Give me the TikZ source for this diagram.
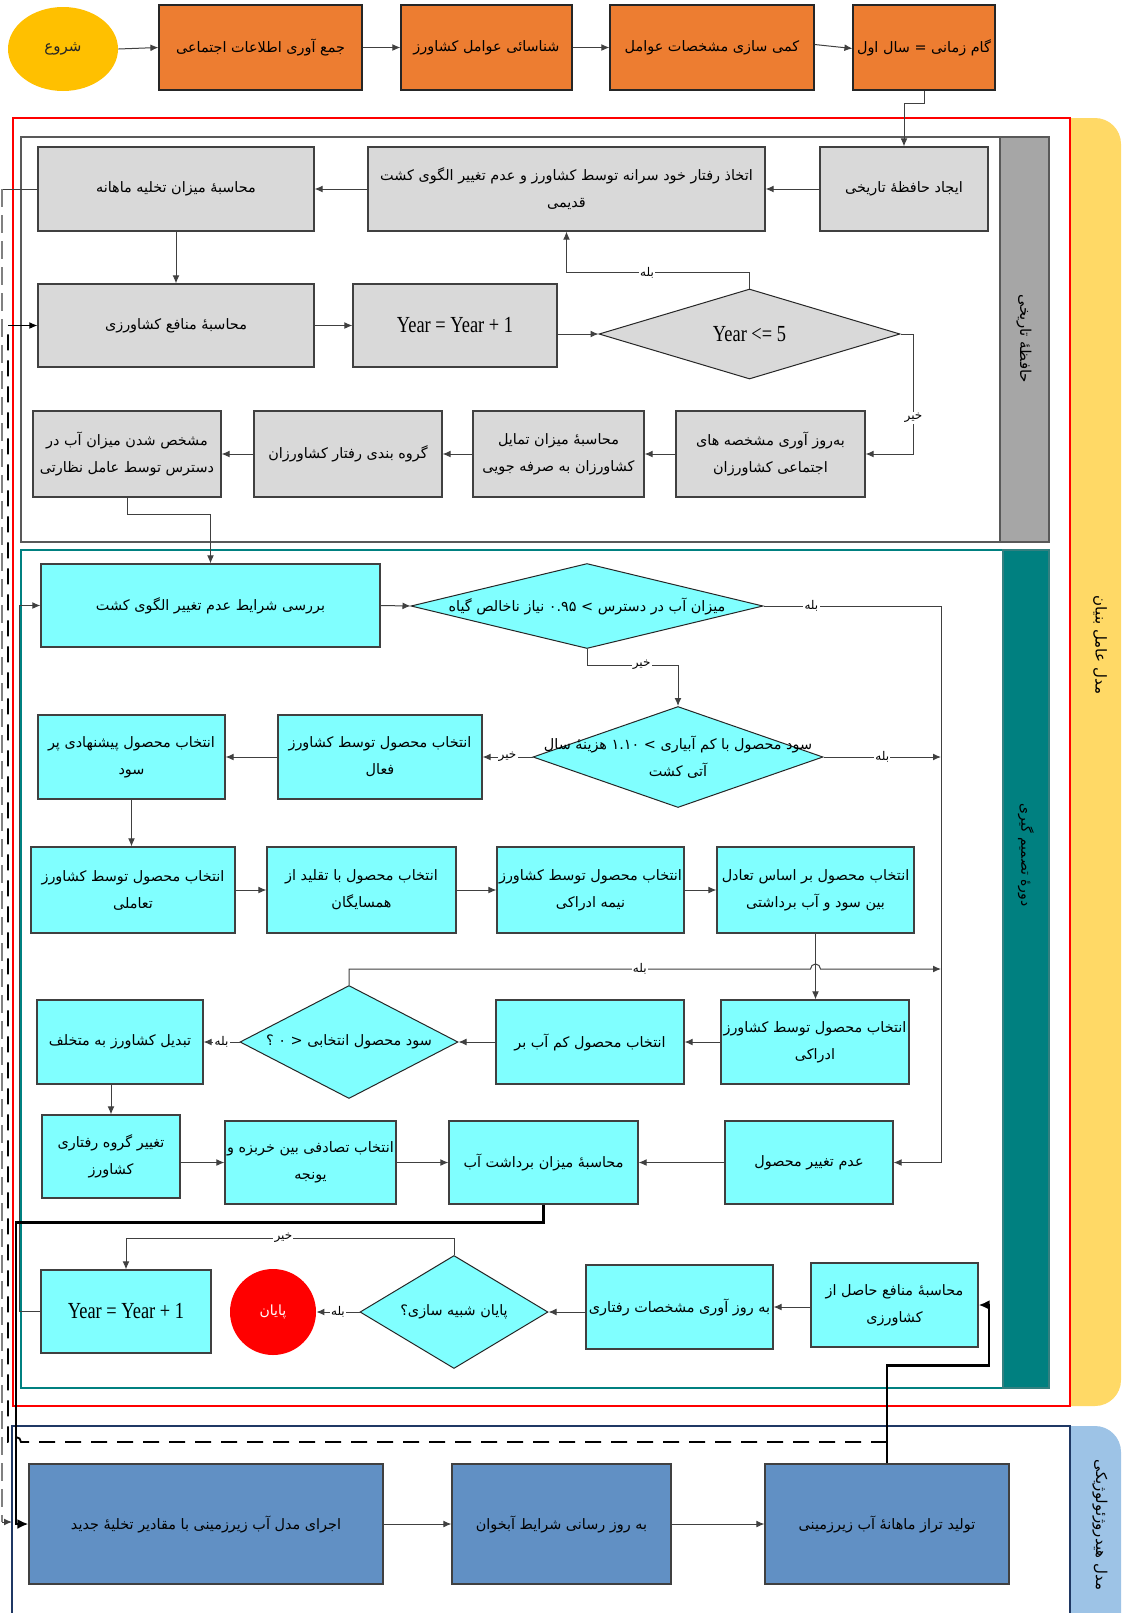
\documentclass[tikz,border=0pt]{standalone}
\usepackage{fontspec}
\usetikzlibrary{shapes.geometric,arrows.meta,calc}
\TeXXeTstate=1
\newfontfamily\fafont[Script=Arabic]{DejaVu Sans}
\newfontfamily\latfont[FakeStretch=0.8]{Liberation Serif}
\newcommand\fatext[1]{\beginR#1\endR}
% box given by its corners (in picture units): style, name, x1, y1, x2, y2, text
\newcommand\boxnode[7]{%
  \pgfmathsetmacro\bxW{(#5-#3)*0.5}\pgfmathsetmacro\bxH{(#6-#4)*0.5}%
  \pgfmathsetmacro\bxX{(#3+#5)/2}\pgfmathsetmacro\bxY{(#4+#6)/2}%
  \node[#1, minimum width=\bxW pt, minimum height=\bxH pt] (#2) at (\bxX,\bxY) {#7};}

\definecolor{orangeF}{HTML}{ED7D31}
\definecolor{goldF}{HTML}{FFC000}
\definecolor{grayF}{HTML}{D9D9D9}
\definecolor{cyanF}{HTML}{80FFFF}
\definecolor{blueF}{HTML}{6190C4}
\definecolor{barGray}{HTML}{A6A6A6}
\definecolor{tealF}{HTML}{008080}
\definecolor{bandY}{HTML}{FFD966}
\definecolor{bandB}{HTML}{9DC3E6}
\definecolor{navyF}{HTML}{1F3864}
\definecolor{frameGray}{HTML}{595959}
\definecolor{lineC}{HTML}{404040}

\begin{document}
\begin{tikzpicture}[x=0.5pt,y=-0.5pt,
  base/.style={draw=lineC, line width=0.6pt, inner sep=0pt, align=center, text=black,
    font=\fafont\fontsize{7.2}{13.5}\selectfont},
  obox/.style={base, fill=orangeF, draw=black!85},
  gbox/.style={base, fill=grayF},
  cbox/.style={base, fill=cyanF},
  bbox/.style={base, fill=blueF},
  dia/.style={shape=diamond, draw=black!85, line width=0.5pt, inner sep=0pt},
  dtext/.style={align=center, font=\fafont\fontsize{7.2}{13.5}\selectfont},
  ytext/.style={font=\latfont\fontsize{11.5}{12}\selectfont},
  link/.style={draw=lineC, line width=0.5pt},
  arr/.style={link, -{Latex[length=4pt,width=3.4pt]}},
  heavy/.style={draw=black, line width=1.4pt},
  heavyarr/.style={heavy, -{Latex[length=5.5pt,width=5pt]}},
  lbl/.style={fill=white, inner sep=0.6pt, font=\fafont\fontsize{6}{7}\selectfont},
  sidelbl/.style={rotate=-90, font=\fafont\fontsize{7.5}{9}\selectfont},
]
\useasboundingbox (0,0) rectangle (1121,1613);
\fill[white] (0,0) rectangle (1121,1613);

% ---- side bands ----
\begin{scope}
  \clip (1070,0) rectangle (1121,1613);
  \fill[bandY, rounded corners=13pt] (1030,118) rectangle (1121,1406);
  \fill[bandB, rounded corners=13pt] (1030,1426) rectangle (1121,1700);
\end{scope}
\node[sidelbl] at (1100,645) {\fatext{مدل عامل بنیان}};
\node[sidelbl] at (1100,1525) {\fatext{مدل هیدروژئولوژیکی}};

% ---- frames ----
\draw[red, line width=0.6pt] (13,118) rectangle (1070,1406);
\draw[navyF, line width=1pt] (12,1700) -- (12,1426) -- (1070,1426) -- (1070,1700);
\draw[frameGray, line width=1.2pt] (21,137) rectangle (1049,542);
\filldraw[fill=barGray, draw=frameGray, line width=1.2pt] (1000,137) rectangle (1049,542);
\node[sidelbl] at (1024,339) {\fatext{حافظهٔ تاریخی}};
\draw[tealF, line width=1.2pt] (21,550) rectangle (1049,1388);
\filldraw[fill=tealF, draw=tealF!60!gray, line width=0.6pt] (1003,550) rectangle (1049,1388);
\node[sidelbl, font=\fafont\fontsize{7}{9}\selectfont] at (1026,855) {\fatext{دورهٔ تصمیم گیری}};

% ---- top row ----
\node[ellipse, fill=goldF, minimum width=55pt, minimum height=42pt, inner sep=0pt,
  font=\fafont\fontsize{7.5}{9}\selectfont, text=black!85] (start) at (63,49) {\fatext{شروع}};
\boxnode{obox}{b1}{159}{5}{362}{90}{\fatext{جمع آوری اطلاعات اجتماعی}}
\boxnode{obox}{b2}{401}{5}{572}{90}{\fatext{شناسائی عوامل کشاورز}}
\boxnode{obox}{b3}{610}{5}{814}{90}{\fatext{کمی سازی مشخصات عوامل}}
\boxnode{obox}{b4}{853}{5}{995}{90}{\fatext{گام زمانی = سال اول}}

% ---- historical memory ----
\boxnode{gbox}{h1}{820}{147}{988}{231}{\fatext{ایجاد حافظهٔ تاریخی}}
\boxnode{gbox}{h2}{368}{147}{765}{231}{\fatext{اتخاذ رفتار خود سرانه توسط کشاورز و عدم تغییر الگوی کشت}\\\fatext{قدیمی}}
\boxnode{gbox}{h3}{38}{147}{314}{231}{\fatext{محاسبهٔ میزان تخلیه ماهانه}}
\boxnode{gbox}{h4}{38}{284}{314}{367}{\fatext{محاسبهٔ منافع کشاورزی}}
\boxnode{gbox,ytext}{h5}{353}{284}{557}{367}{Year = Year + 1}
\node[dia, fill=grayF, minimum width=150.5pt, minimum height=45pt] (hd) at (749.5,334) {};
\node[ytext] at (hd) {Year <= 5};
\boxnode{gbox}{h6}{676}{411}{865}{497}{\fatext{به‌روز آوری مشخصه های}\\\fatext{اجتماعی کشاورزان}}
\boxnode{gbox}{h7}{473}{411}{644}{497}{\fatext{محاسبهٔ میزان تمایل}\\\fatext{کشاورزان به صرفه جویی}}
\boxnode{gbox}{h8}{254}{411}{442}{497}{\fatext{گروه بندی رفتار کشاورزان}}
\boxnode{gbox}{h9}{33}{411}{221}{497}{\fatext{مشخص شدن میزان آب در}\\\fatext{دسترس توسط عامل نظارتی}}

% ---- decision period ----
\boxnode{cbox}{c1}{41}{564}{380}{647}{\fatext{بررسی شرایط عدم تغییر الگوی کشت}}
\node[dia, fill=cyanF, minimum width=176pt, minimum height=42.5pt] (d1) at (587,606) {};
\node[dtext] at (d1) {\fatext{میزان آب در دسترس > ۰.۹۵ نیاز ناخالص گیاه}};
\node[dia, fill=cyanF, minimum width=145pt, minimum height=50.5pt] (d2) at (678,757) {};
\node[dtext] at (d2) {\fatext{سود محصول با کم آبیاری > ۱.۱۰ هزینهٔ سال}\\\fatext{آتی کشت}};
\boxnode{cbox}{c2}{278}{715}{482}{799}{\fatext{انتخاب محصول توسط کشاورز}\\\fatext{فعال}}
\boxnode{cbox}{c3}{38}{715}{225}{799}{\fatext{انتخاب محصول پیشنهادی پر}\\\fatext{سود}}
\boxnode{cbox}{c4}{31}{847}{235}{933}{\fatext{انتخاب محصول توسط کشاورز}\\\fatext{تعاملی}}
\boxnode{cbox}{c5}{267}{847}{456}{933}{\fatext{انتخاب محصول با تقلید از}\\\fatext{همسایگان}}
\boxnode{cbox}{c6}{497}{847}{684}{933}{\fatext{انتخاب محصول توسط کشاورز}\\\fatext{نیمه ادراکی}}
\boxnode{cbox}{c7}{717}{847}{914}{933}{\fatext{انتخاب محصول بر اساس تعادل}\\\fatext{بین سود و آب برداشتی}}
\boxnode{cbox}{c8}{721}{1000}{909}{1084}{\fatext{انتخاب محصول توسط کشاورز}\\\fatext{ادراکی}}
\boxnode{cbox}{c9}{496}{1000}{684}{1084}{\fatext{انتخاب محصول کم آب بر}}
\node[dia, fill=cyanF, minimum width=109pt, minimum height=56.5pt] (d3) at (349,1042) {};
\node[dtext] at (d3) {\fatext{سود محصول انتخابی < ۰ ؟}};
\boxnode{cbox}{c10}{37}{1000}{203}{1084}{\fatext{تبدیل کشاورز به متخلف}}
\boxnode{cbox}{c11}{42}{1115}{180}{1198}{\fatext{تغییر گروه رفتاری}\\\fatext{کشاورز}}
\boxnode{cbox}{c12}{225}{1121}{396}{1204}{\fatext{انتخاب تصادفی بین خربزه و}\\\fatext{یونجه}}
\boxnode{cbox}{c13}{449}{1121}{638}{1204}{\fatext{محاسبهٔ میزان برداشت آب}}
\boxnode{cbox}{c14}{725}{1121}{893}{1204}{\fatext{عدم تغییر محصول}}
\boxnode{cbox}{c15}{811}{1263}{978}{1347}{\fatext{محاسبهٔ منافع حاصل از}\\\fatext{کشاورزی}}
\boxnode{cbox}{c16}{586}{1265}{773}{1349}{\fatext{به روز آوری مشخصات رفتاری}}
\node[dia, fill=cyanF, minimum width=94pt, minimum height=56.5pt] (d4) at (454,1312) {};
\node[dtext] at (d4) {\fatext{پایان شبیه سازی؟}};
\node[circle, fill=red, minimum size=43pt, inner sep=0pt, text=white,
  font=\fafont\fontsize{7}{9}\selectfont] (stop) at (273,1312) {\fatext{پایان}};
\boxnode{cbox,ytext}{c17}{41}{1270}{211}{1353}{Year = Year + 1}

% ---- hydrogeological model ----
\boxnode{bbox}{g1}{29}{1464}{383}{1584}{\fatext{اجرای مدل آب زیرزمینی با مقادیر تخلیهٔ جدید}}
\boxnode{bbox}{g2}{452}{1464}{671}{1584}{\fatext{به روز رسانی شرایط آبخوان}}
\boxnode{bbox}{g3}{765}{1464}{1009}{1584}{\fatext{تولید تراز ماهانهٔ آب زیرزمینی}}

% ---- connectors: top row ----
\draw[arr] (start.east) -- (b1.west);
\draw[arr] (b1.east) -- (b2.west);
\draw[arr] (b2.east) -- (b3.west);
\draw[arr] ([yshift=1.5pt]b3.east) -- ([yshift=-0.5pt]b4.west);
\draw[arr] (b4.south) -- ++(0,13) -| (h1.north);

% ---- connectors: historical memory ----
\draw[arr] (h1.west) -- (h2.east);
\draw[arr] (h2.west) -- (h3.east);
\draw[arr] (h3.south) -- (h4.north);
\draw[arr] (h4.east) -- (h5.west);
\draw[arr] (h5.east |- hd.west) -- (hd.west);
\draw[arr] (hd.north) -- ++(0,-16) -| node[lbl,pos=0.28]{\fatext{بله}} (h2.south);
\draw[arr] (hd.east) -- ++(13,0) |- node[lbl,pos=0.35]{\fatext{خیر}} (h6.east);
\draw[arr] (h6.west) -- (h7.east);
\draw[arr] (h7.west) -- (h8.east);
\draw[arr] (h8.west) -- (h9.east);
\draw[arr] (h9.south) -- ++(0,17) -| (c1.north);

% monthly discharge handed to the groundwater model
\coordinate (gx) at (2,0);
\coordinate (gEnd) at (12,1522);
\draw[link] (h3.west) -- (h3.west -| gx);
\draw[draw=gray, line width=0.6pt, dash pattern=on 9pt off 4pt] (h3.west -| gx) -- (gx |- gEnd);
\draw[arr] (gx |- gEnd) -- (gEnd);

% ---- connectors: decision period ----
\coordinate (rx) at (941,0);
\draw[arr] (c1.east) -- (d1.west);
\draw[arr] (d1.east) -- node[lbl,pos=0.27]{\fatext{بله}} (d1.east -| rx) |- (c14.east);
\draw[arr] (d1.south) -- ++(0,16) -| node[lbl,pos=0.3]{\fatext{خیر}} (d2.north);
\draw[arr] (d2.east) -- node[lbl,pos=0.5]{\fatext{بله}} (d2.east -| rx);
\draw[arr] (d2.west) -- node[lbl]{\fatext{خیر}} (c2.east);
\draw[arr] (c2.west) -- (c3.east);
\draw[arr] (c3.south) -- (c3.south |- c4.north);
\draw[arr] (c4.east) -- (c5.west);
\draw[arr] (c5.east) -- (c6.west);
\draw[arr] (c6.east) -- (c7.west);
\draw[arr] (c7.south) -- (c7.south |- c8.north);
\draw[arr] (d3.north) -- ++(0,-16) coordinate (j0)
  -- node[lbl,pos=0.63]{\fatext{بله}} ($(j0 -| c7.south)+(-5,0)$)
  arc[start angle=180, end angle=360, radius=5] -- (j0 -| rx);
\draw[arr] (c8.west) -- (c9.east);
\draw[arr] (c9.west) -- (d3.east);
\draw[arr] (d3.west) -- node[lbl]{\fatext{بله}} (c10.east);
\draw[arr] (c10.south -| c11.north) -- (c11.north);
\draw[arr] (c11.east |- c12.west) -- (c12.west);
\draw[arr] (c12.east) -- (c13.west);
\draw[arr] (c14.west) -- (c13.east);
\draw[arr] (c15.west |- c16.east) -- (c16.east);
\draw[arr] (c16.west |- d4.east) -- (d4.east);
\draw[arr] (d4.west) -- node[lbl]{\fatext{بله}} (stop.east);
\draw[arr] (d4.north) -- ++(0,-17) -| node[lbl,pos=0.26]{\fatext{خیر}} (c17.north);

% next year goes back to the crop-pattern check
\coordinate (lx) at (19,0);
\draw[arr] (c17.west) -- (c17.west -| lx) -- (lx |- c1.west) -- (c1.west);

% water withdrawal feeds the groundwater model
\coordinate (tx) at (16,0);
\draw[heavyarr] (c13.south) -- ++(0,18) coordinate (t0) -- (t0 -| tx) -- (tx |- g1.west) -- (g1.west);

% ---- connectors: hydrogeological model ----
\draw[arr] (g1.east) -- (g2.west);
\draw[arr] (g2.east) -- (g3.west);
\coordinate (ux) at (989,0);
\draw[heavyarr] (g3.north) -- ++(0,-98) coordinate (u0) -- (u0 -| ux) -- (ux |- c15.east) -- (c15.east);

% groundwater levels returned to the farm benefit step
\coordinate (dl) at (8,1442);
\draw[black, line width=0.9pt, dash pattern=on 8pt off 5pt]
  (g3.north |- dl) -- ($(tx |- dl)+(5,0)$) arc[start angle=0, end angle=-180, radius=5]
  -- (dl) -- (dl |- h4.west);
\draw[arr, draw=black] (dl |- h4.west) -- (h4.west);
\end{tikzpicture}
\end{document}
